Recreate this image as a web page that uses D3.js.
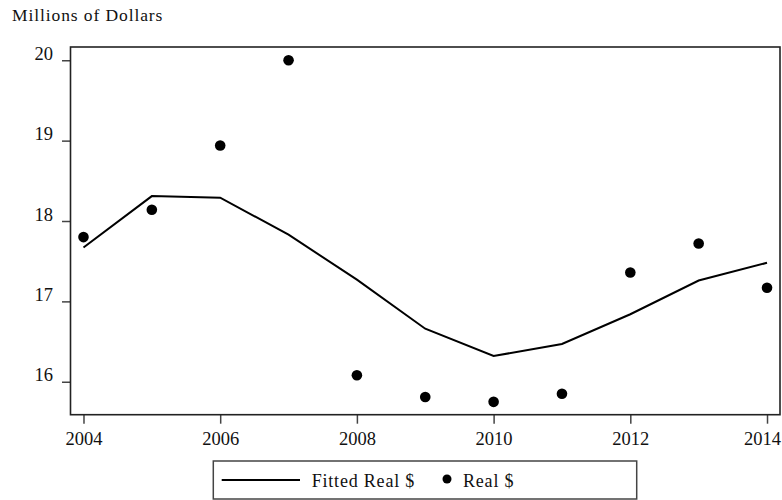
<!DOCTYPE html>
<html><head><meta charset="utf-8">
<script src="https://cdn.jsdelivr.net/npm/d3@7"></script>
<style>body{margin:0;background:#fff}svg{display:block}text{font-family:"Liberation Serif","Times New Roman",serif;fill:#111}</style>
</head><body><svg id="c" width="782" height="500"></svg>
<script>
const years = [2004,2005,2006,2007,2008,2009,2010,2011,2012,2013,2014];
const realValues = [17.80,18.14,18.94,20.00,16.08,15.81,15.75,15.85,17.36,17.72,17.17];
const fittedValues = [17.67,18.31,18.29,17.83,17.27,16.66,16.32,16.47,16.84,17.26,17.48];
const xTicks = [2004,2006,2008,2010,2012,2014];
const yTicks = [16,17,18,19,20];

const svg = d3.select("#c");
const L=70.5,R=780,T=47,B=414.7;
const x = d3.scaleLinear().domain([2003.81,2014.19]).range([L,R]);
const y = d3.scaleLinear().domain([15.59,20.165]).range([B,T]);

svg.append("text").attr("x",12).attr("y",21).attr("font-size",17.5).attr("letter-spacing",0.9).text("Millions of Dollars");

// axes
const xa = svg.append("g").attr("transform",`translate(0,${B})`)
  .call(d3.axisBottom(x).tickValues(xTicks).tickFormat(d3.format("d")).tickSize(9).tickPadding(8));
const ya = svg.append("g").attr("transform",`translate(${L},0)`)
  .call(d3.axisLeft(y).tickValues(yTicks).tickFormat(d3.format("d")).tickSize(8.5).tickPadding(9));
[xa,ya].forEach(g=>{
  g.select(".domain").remove();
  g.selectAll(".tick line").attr("stroke","#444").attr("stroke-width",1.5);
  g.selectAll(".tick text").attr("font-size",18.5).attr("fill","#111").style("font-family",'"Liberation Serif",serif');
});
ya.selectAll(".tick text").attr("dy","-0.05em");
xa.selectAll(".tick text").attr("dy","0.71em");
xa.selectAll(".tick").filter(d=>d===2014).select("text")
  .attr("text-anchor","end").attr("x", R + 0.5 - x(2014));

// frame
svg.append("rect").attr("x",L).attr("y",T).attr("width",R-L).attr("height",B-T)
  .attr("fill","none").attr("stroke","#222").attr("stroke-width",1.6);

// fitted line
const line = d3.line().x((d,i)=>x(years[i])).y(d=>y(d));
svg.append("path").datum(fittedValues).attr("d",line).attr("fill","none").attr("stroke","#000").attr("stroke-width",2);

// points
svg.selectAll("circle.pt").data(realValues).join("circle").attr("class","pt")
  .attr("cx",(d,i)=>x(years[i])).attr("cy",d=>y(d)).attr("r",5.3).attr("fill","#000");

// legend
const lg = svg.append("g");
lg.append("rect").attr("x",213.3).attr("y",461).attr("width",423.4).attr("height",38)
  .attr("fill","#fff").attr("stroke","#444").attr("stroke-width",1.5);
lg.append("line").attr("x1",221.7).attr("x2",300).attr("y1",480).attr("y2",480).attr("stroke","#000").attr("stroke-width",2);
lg.append("text").attr("x",311.7).attr("y",486.5).attr("font-size",18).attr("letter-spacing",0.8).text("Fitted Real $");
lg.append("circle").attr("cx",447).attr("cy",479).attr("r",4.5).attr("fill","#000");
lg.append("text").attr("x",463).attr("y",486.5).attr("font-size",18).attr("letter-spacing",0.8).text("Real $");
</script></body></html>
